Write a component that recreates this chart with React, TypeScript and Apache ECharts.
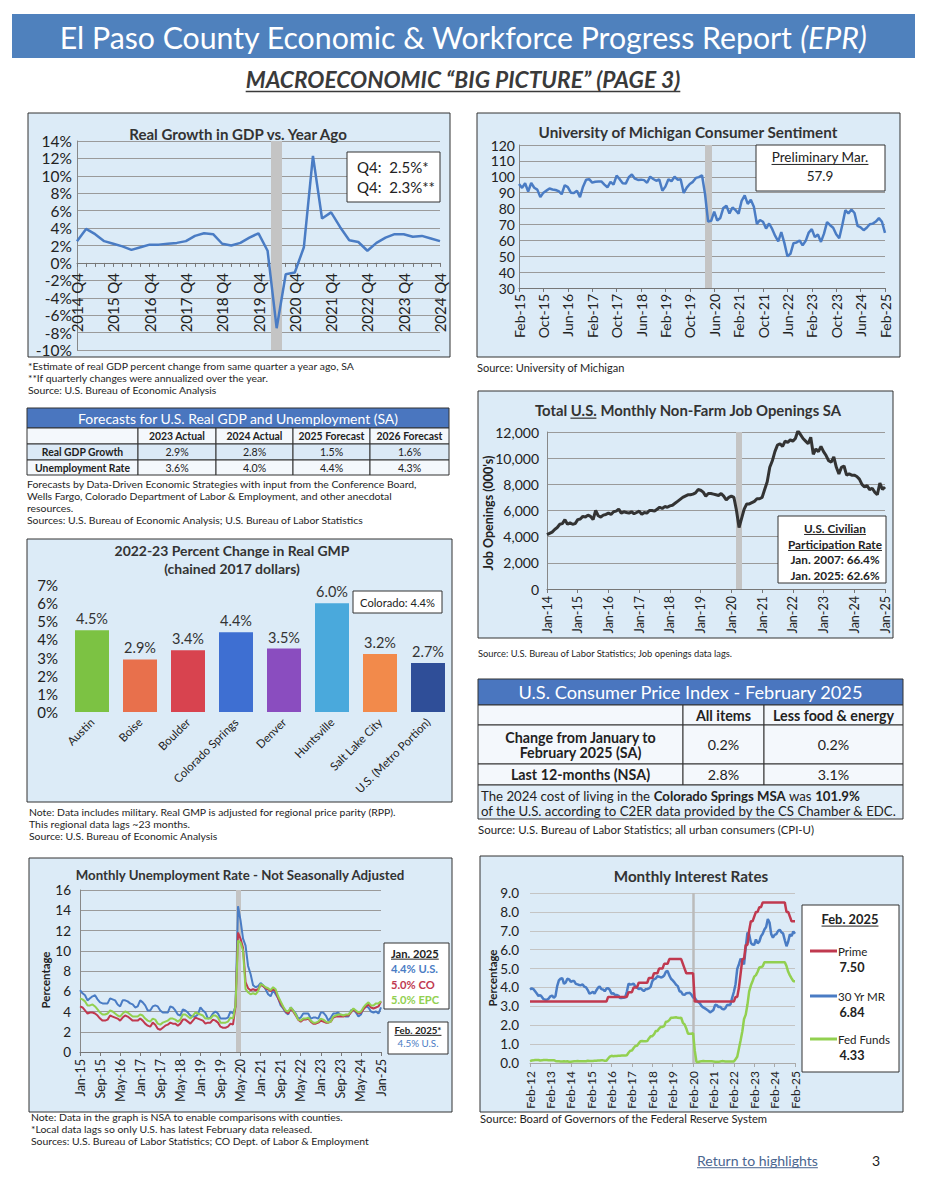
import React, { useEffect, useRef } from 'react';
import * as echarts from 'echarts';

const FONT = 'Lato, "Open Sans", "DejaVu Sans", sans-serif';
const MONTHS = ['Jan', 'Feb', 'Mar', 'Apr', 'May', 'Jun', 'Jul', 'Aug', 'Sep', 'Oct', 'Nov', 'Dec'];

function monthLabels(startYear: number, startMonth: number, count: number): string[] {
  const out: string[] = [];
  for (let i = 0; i < count; i++) {
    const t = startMonth + i;
    const y = startYear + Math.floor(t / 12);
    out.push(MONTHS[t % 12] + '-' + String(y % 100).padStart(2, '0'));
  }
  return out;
}
function quarterLabels(startYear: number, startQ: number, count: number): string[] {
  const out: string[] = [];
  for (let i = 0; i < count; i++) {
    const t = startQ - 1 + i;
    out.push(startYear + Math.floor(t / 4) + ' Q' + ((t % 4) + 1));
  }
  return out;
}

// ---------------- DATA ----------------
// Real GDP growth vs year ago (quarterly, 2014 Q4 - 2024 Q4)
const gdpQuarters = quarterLabels(2014, 4, 41);
const gdpGrowth = [
  2.5, 3.9, 3.3, 2.5, 2.2, 1.9, 1.5, 1.8, 2.1, 2.1, 2.2, 2.3, 2.5,
  3.1, 3.4, 3.3, 2.2, 2.0, 2.3, 2.9, 3.4, 1.4, -7.5, -1.3, -1.1,
  1.8, 12.3, 5.1, 5.8, 4.1, 2.6, 2.4, 1.4, 2.3, 2.9, 3.3, 3.3,
  3.0, 3.1, 2.8, 2.5,
];
const gdpQ4Yoy = 2.5;
const gdpQ4Ann = 2.3;

// U. Michigan consumer sentiment (monthly Feb-15 .. Feb-25)
const sentMonths = monthLabels(2015, 1, 121);
const sentiment = [
  95.4, 93.0, 95.9, 90.7, 96.1, 93.1, 91.9, 87.2, 90.0, 91.3, 92.6,
  92.0, 91.7, 91.0, 89.0, 94.7, 93.5, 90.0, 89.8, 91.2, 87.2, 93.8, 98.2,
  98.5, 96.3, 96.9, 97.0, 97.1, 95.1, 93.4, 96.8, 95.1, 100.7, 98.5, 95.9,
  95.7, 99.7, 101.4, 98.8, 98.0, 98.2, 97.9, 96.2, 100.1, 98.6, 97.5, 98.3,
  91.2, 93.8, 98.4, 97.2, 100.0, 98.2, 98.4, 89.8, 93.2, 95.5, 96.8, 99.3,
  99.8, 101.0, 89.1, 71.8, 72.3, 78.1, 72.5, 74.1, 80.4, 81.8, 76.9, 80.7,
  79.0, 76.8, 84.9, 88.3, 82.9, 85.5, 81.2, 70.3, 72.8, 71.7, 67.4, 70.6,
  67.2, 62.8, 59.4, 65.2, 58.4, 50.0, 51.5, 58.2, 58.6, 59.9, 56.8, 59.7,
  64.9, 67.0, 62.0, 63.7, 59.0, 64.2, 71.5, 69.5, 67.9, 63.8, 61.3, 69.7,
  79.0, 76.9, 79.4, 77.2, 69.1, 68.2, 66.4, 67.9, 70.1, 70.5, 71.8, 74.0,
  71.7, 64.7,
];
const sentimentPrelim = 57.9;

// Forecast table
const fcHeaders = ['2023 Actual', '2024 Actual', '2025 Forecast', '2026 Forecast'];
const fcRowLabels = ['Real GDP Growth', 'Unemployment Rate'];
const fcGdp = [2.9, 2.8, 1.5, 1.6];
const fcUnemp = [3.6, 4.0, 4.4, 4.3];

// Real GMP change
const gmpCities = ['Austin', 'Boise', 'Boulder', 'Colorado Springs', 'Denver', 'Huntsville', 'Salt Lake City', 'U.S. (Metro Portion)'];
const gmpValues = [4.5, 2.9, 3.4, 4.4, 3.5, 6.0, 3.2, 2.7];
const gmpColors = ['#7cc243', '#e8704c', '#d8434f', '#3e6fd2', '#8a4dbf', '#4aa9dc', '#f28a4b', '#2f4e98'];
const gmpColorado = 4.4;

// Job openings (000's), monthly Jan-14 .. Jan-25
const jobMonths = monthLabels(2014, 0, 133);
const jobOpenings = [
  4150, 4250, 4350, 4550, 4700, 4950, 5000, 5300, 4950, 5050, 4950, 5000,
  5300, 5350, 5550, 5500, 5650, 5550, 5300, 6000, 5600, 5500, 5650, 5700,
  5800, 5700, 5900, 5950, 6100, 5800, 5900, 5850, 5800, 5900, 5750, 5850,
  5950, 5700, 5850, 5800, 6000, 6000, 5950, 6100, 6250, 6150, 6300, 6250,
  6350, 6400, 6550, 6700, 6850, 7000, 7100, 7200, 7200, 7250, 7350, 7600,
  7550, 7400, 7100, 7300, 7300, 7250, 7200, 7150, 7300, 7100, 6800, 7000,
  7100, 7000, 6000, 4700, 5400, 6100, 6500, 6500, 6600, 6700, 6900, 6900,
  7000, 7600, 8200, 9300, 9800, 10500, 11000, 11100, 10900, 11300, 11200, 11400,
  11300, 11500, 12100, 11800, 11500, 11300, 11100, 11600, 10300, 10700, 10500, 10900,
  10500, 10200, 9800, 9700, 10100, 9300, 8800, 9300, 9400, 8700, 8800, 8700,
  8700, 8600, 8400, 8000, 7800, 7900, 7600, 7700, 7400, 7200, 8100, 7600,
  7800,
];
const participation = [
  ['Jan. 2007', 66.4],
  ['Jan. 2025', 62.6],
];

// CPI table
const cpiCols = ['All items', 'Less food & energy'];
const cpiMonthly = [0.2, 0.2];
const cpi12m = [2.8, 3.1];
const costOfLiving = 101.9;

// Unemployment NSA monthly Jan-15 .. Jan-25
const unMonths = monthLabels(2015, 0, 121);
const unUS = [
  6.1, 5.8, 5.6, 5.1, 5.3, 5.5, 5.6, 5.2, 4.9, 4.8, 4.8, 4.8,
  5.3, 5.2, 5.1, 4.7, 4.5, 5.1, 5.1, 5.0, 4.8, 4.7, 4.4, 4.5,
  5.1, 4.9, 4.6, 4.1, 4.1, 4.5, 4.6, 4.5, 4.1, 3.9, 3.9, 3.9,
  4.5, 4.4, 4.1, 3.7, 3.6, 4.2, 4.1, 3.9, 3.6, 3.5, 3.5, 3.7,
  4.4, 4.1, 3.9, 3.3, 3.4, 3.8, 4.0, 3.8, 3.3, 3.3, 3.3, 3.4,
  4.0, 3.8, 4.5, 14.4, 13.0, 11.2, 10.5, 8.5, 7.7, 6.6, 6.4, 6.5,
  6.8, 6.6, 6.2, 5.7, 5.5, 6.1, 5.7, 5.3, 4.6, 4.3, 3.9, 3.7,
  4.4, 4.1, 3.8, 3.3, 3.4, 3.8, 3.8, 3.8, 3.3, 3.4, 3.4, 3.3,
  3.9, 3.9, 3.6, 3.1, 3.4, 3.8, 3.8, 3.9, 3.6, 3.6, 3.5, 3.5,
  4.1, 4.2, 3.9, 3.5, 3.7, 4.3, 4.5, 4.4, 4.0, 3.9, 4.0, 3.8,
  4.4,
];
const unCO = [
  4.5, 4.4, 4.1, 3.8, 3.9, 3.9, 3.8, 3.6, 3.3, 3.1, 3.1, 3.2,
  3.6, 3.5, 3.4, 3.3, 3.1, 3.4, 3.6, 3.5, 3.3, 3.1, 3.1, 3.1,
  3.3, 3.1, 2.8, 2.6, 2.5, 2.9, 2.7, 2.3, 2.2, 2.4, 2.6, 2.7,
  2.9, 2.8, 2.8, 2.6, 2.8, 3.2, 3.2, 3.0, 2.8, 3.1, 3.4, 3.3,
  3.2, 3.1, 2.8, 2.9, 2.9, 3.2, 3.1, 2.9, 2.5, 2.4, 2.4, 2.5,
  2.8, 2.7, 4.5, 11.8, 11.2, 10.3, 6.9, 6.3, 6.1, 6.2, 6.1, 6.2,
  6.6, 6.5, 6.3, 6.2, 6.0, 6.2, 6.0, 5.3, 4.8, 4.4, 4.0, 3.8,
  4.3, 4.0, 3.6, 3.2, 3.0, 3.2, 3.2, 3.3, 3.0, 2.8, 2.8, 2.9,
  3.1, 3.0, 2.9, 2.9, 3.0, 3.4, 3.5, 3.5, 3.5, 3.5, 3.6, 3.6,
  3.9, 4.2, 4.0, 3.8, 3.9, 4.2, 4.5, 4.7, 4.4, 4.3, 4.4, 4.5,
  5.0,
];
const unEPC = [
  5.3, 5.2, 5.0, 4.6, 4.6, 4.7, 4.5, 4.2, 3.9, 3.7, 3.7, 3.8,
  4.1, 4.0, 3.8, 3.6, 3.5, 3.8, 4.0, 3.9, 3.7, 3.5, 3.5, 3.5,
  3.7, 3.6, 3.3, 3.1, 3.0, 3.3, 3.2, 2.8, 2.7, 2.9, 3.0, 3.1,
  3.3, 3.3, 3.2, 3.0, 3.2, 3.7, 3.7, 3.5, 3.3, 3.6, 3.9, 3.8,
  3.7, 3.6, 3.3, 3.3, 3.3, 3.6, 3.6, 3.4, 2.9, 2.9, 2.9, 3.0,
  3.4, 3.3, 4.6, 11.0, 10.8, 10.0, 6.2, 5.9, 5.7, 5.8, 5.7, 6.0,
  6.7, 6.6, 6.4, 6.3, 6.1, 6.4, 6.2, 5.5, 5.0, 4.5, 4.1, 4.0,
  4.4, 4.1, 3.7, 3.2, 3.1, 3.3, 3.3, 3.4, 3.1, 2.9, 2.9, 3.0,
  3.3, 3.2, 3.0, 2.9, 3.0, 3.5, 3.6, 3.7, 3.7, 3.6, 3.7, 3.7,
  4.0, 4.3, 4.1, 3.9, 4.0, 4.4, 4.7, 4.9, 4.6, 4.6, 4.8, 4.8,
  5.0,
];
const unFebUS = 4.5;

// Interest rates monthly Feb-12 .. Feb-25
const irMonths = monthLabels(2012, 1, 157);
const prime = [
  3.25, 3.25, 3.25, 3.25, 3.25, 3.25, 3.25, 3.25, 3.25, 3.25, 3.25,
  3.25, 3.25, 3.25, 3.25, 3.25, 3.25, 3.25, 3.25, 3.25, 3.25, 3.25, 3.25,
  3.25, 3.25, 3.25, 3.25, 3.25, 3.25, 3.25, 3.25, 3.25, 3.25, 3.25, 3.25,
  3.25, 3.25, 3.25, 3.25, 3.25, 3.25, 3.25, 3.25, 3.25, 3.25, 3.25, 3.5,
  3.5, 3.5, 3.5, 3.5, 3.5, 3.5, 3.5, 3.5, 3.5, 3.5, 3.5, 3.75,
  3.75, 3.75, 4.0, 4.0, 4.0, 4.25, 4.25, 4.25, 4.25, 4.25, 4.25, 4.5,
  4.5, 4.5, 4.75, 4.75, 4.75, 5.0, 5.0, 5.0, 5.25, 5.25, 5.25, 5.5,
  5.5, 5.5, 5.5, 5.5, 5.5, 5.5, 5.5, 5.25, 5.0, 4.75, 4.75, 4.75,
  4.75, 4.75, 3.25, 3.25, 3.25, 3.25, 3.25, 3.25, 3.25, 3.25, 3.25, 3.25,
  3.25, 3.25, 3.25, 3.25, 3.25, 3.25, 3.25, 3.25, 3.25, 3.25, 3.25, 3.25,
  3.25, 3.25, 3.5, 3.5, 4.0, 4.75, 5.5, 5.5, 6.25, 6.25, 7.0, 7.5,
  7.5, 7.75, 8.0, 8.0, 8.25, 8.25, 8.5, 8.5, 8.5, 8.5, 8.5, 8.5,
  8.5, 8.5, 8.5, 8.5, 8.5, 8.5, 8.5, 8.5, 8.0, 8.0, 7.75, 7.5,
  7.5, 7.5,
];
const mortgage30 = [
  3.89, 3.95, 3.91, 3.80, 3.68, 3.55, 3.60, 3.50, 3.38, 3.35, 3.35,
  3.41, 3.53, 3.57, 3.45, 3.54, 4.07, 4.37, 4.46, 4.49, 4.19, 4.26, 4.46,
  4.43, 4.30, 4.34, 4.34, 4.19, 4.16, 4.13, 4.12, 4.16, 4.04, 4.00, 3.86,
  3.67, 3.71, 3.77, 3.67, 3.84, 3.98, 4.05, 3.91, 3.89, 3.80, 3.94, 3.96,
  3.87, 3.66, 3.69, 3.61, 3.60, 3.57, 3.44, 3.44, 3.46, 3.47, 3.77, 4.20,
  4.15, 4.17, 4.20, 4.05, 4.01, 3.90, 3.97, 3.88, 3.81, 3.90, 3.92, 3.95,
  4.03, 4.33, 4.44, 4.47, 4.59, 4.57, 4.53, 4.55, 4.63, 4.83, 4.87, 4.64,
  4.46, 4.37, 4.27, 4.14, 4.07, 3.80, 3.77, 3.62, 3.61, 3.69, 3.70, 3.72,
  3.62, 3.47, 3.45, 3.31, 3.23, 3.16, 3.02, 2.94, 2.89, 2.83, 2.77, 2.68,
  2.74, 2.81, 3.08, 3.06, 2.96, 2.98, 2.87, 2.84, 2.90, 3.07, 3.07, 3.10,
  3.45, 3.76, 4.17, 4.98, 5.23, 5.52, 5.41, 5.22, 6.11, 6.90, 6.81, 6.36,
  6.27, 6.26, 6.54, 6.34, 6.43, 6.71, 6.84, 7.07, 7.20, 7.62, 7.44, 6.82,
  6.64, 6.78, 6.82, 6.99, 7.06, 6.92, 6.85, 6.50, 6.18, 6.43, 6.81, 6.72,
  6.96, 6.84,
];
const fedFunds = [
  0.10, 0.13, 0.14, 0.16, 0.16, 0.16, 0.13, 0.14, 0.16, 0.16, 0.16,
  0.14, 0.15, 0.14, 0.15, 0.11, 0.09, 0.09, 0.08, 0.08, 0.09, 0.08, 0.09,
  0.07, 0.07, 0.08, 0.09, 0.09, 0.10, 0.09, 0.09, 0.09, 0.09, 0.09, 0.12,
  0.11, 0.11, 0.11, 0.12, 0.12, 0.13, 0.13, 0.14, 0.14, 0.12, 0.12, 0.24,
  0.34, 0.38, 0.36, 0.37, 0.37, 0.38, 0.39, 0.40, 0.40, 0.40, 0.41, 0.54,
  0.65, 0.66, 0.79, 0.90, 0.91, 1.04, 1.15, 1.16, 1.15, 1.15, 1.16, 1.30,
  1.41, 1.42, 1.51, 1.69, 1.70, 1.82, 1.91, 1.91, 1.95, 2.19, 2.20, 2.27,
  2.40, 2.40, 2.41, 2.42, 2.39, 2.38, 2.40, 2.13, 2.04, 1.83, 1.55, 1.55,
  1.55, 1.58, 0.65, 0.05, 0.05, 0.08, 0.09, 0.10, 0.09, 0.09, 0.09, 0.09,
  0.09, 0.08, 0.07, 0.07, 0.06, 0.08, 0.10, 0.09, 0.08, 0.08, 0.08, 0.08,
  0.08, 0.08, 0.20, 0.33, 0.77, 1.21, 1.68, 2.33, 2.56, 3.08, 3.78, 4.10,
  4.33, 4.57, 4.65, 4.83, 5.06, 5.08, 5.12, 5.33, 5.33, 5.33, 5.33, 5.33,
  5.33, 5.33, 5.33, 5.33, 5.33, 5.33, 5.33, 5.33, 5.13, 4.83, 4.64, 4.48,
  4.33, 4.33,
];

// ---------------- HELPERS ----------------
const BLUE = '#4a7cc4';
const RED = '#c0394f';
const GREEN = '#92d050';
const PANEL = '#dcebf7';

let mctx: any = null;
function measure(text: string, size: number, bold = false, italic = false): number {
  if (!mctx) mctx = document.createElement('canvas').getContext('2d');
  mctx.font = `${italic ? 'italic ' : ''}${bold ? 'bold ' : ''}${size}px ${FONT}`;
  return mctx.measureText(text).width;
}
function fit(text: string, width: number, bold = false, italic = false): number {
  return (100 * width) / measure(text, 100, bold, italic);
}

function buildOption() {
  const els: any[] = [];
  const T = (x: number, y: number, text: string, size: number, o: any = {}) => {
    const style: any = {
      text,
      fontSize: size,
      fontFamily: FONT,
      fontWeight: o.bold ? 'bold' : 'normal',
      fontStyle: o.italic ? 'italic' : 'normal',
      fill: o.color || '#222',
      align: o.align || 'left',
      verticalAlign: 'middle',
    };
    if (o.rich) style.rich = o.rich;
    els.push({ type: 'text', x, y, z: o.z ?? 50, rotation: o.rotation || 0, silent: true, style });
  };
  const R = (x: number, y: number, w: number, h: number, fill: string, stroke: string | null, z = -10, lw = 1) => {
    els.push({ type: 'rect', z, silent: true, shape: { x, y, width: w, height: h }, style: { fill, stroke: stroke || 'none', lineWidth: lw } });
  };
  const L = (x1: number, y1: number, x2: number, y2: number, color: string, w = 1, z = 60) => {
    els.push({ type: 'line', z, silent: true, shape: { x1, y1, x2, y2 }, style: { stroke: color, lineWidth: w } });
  };
  const U = (x: number, y: number, text: string, size: number, o: any = {}) => {
    T(x, y, text, size, o);
    const w = measure(text, size, !!o.bold, !!o.italic);
    const a = o.align || 'left';
    const x0 = a === 'center' ? x - w / 2 : a === 'right' ? x - w : x;
    const uy = y + size * 0.55;
    L(x0, uy, x0 + w, uy, o.color || '#222', Math.max(1, size * 0.07));
  };
  const notes = (x: number, ys: number[], lines: string[], refIdx: number, refW: number) => {
    let s = fit(lines[refIdx], refW);
    if (ys.length > 1) s = Math.min(s, (ys[1] - ys[0]) / 1.15);
    lines.forEach((l, i) => T(x, ys[i], l, s, { color: '#1e1e1e' }));
  };

  // ----- Header -----
  R(12, 14, 903, 44, '#4f81bd', null);
  const h1a = 'El Paso County Economic & Workforce Progress Report ';
  const h1b = '(EPR)';
  const h1s = (100 * 808) / (measure(h1a, 100) + measure(h1b, 100, false, true));
  T(463, 37, h1a + '{i|' + h1b + '}', h1s, {
    color: '#ffffff',
    align: 'center',
    rich: { i: { fontStyle: 'italic', fontSize: h1s, fontFamily: FONT, fill: '#ffffff' } },
  });
  const sub = 'MACROECONOMIC “BIG PICTURE” (PAGE 3)';
  U(463, 79, sub, fit(sub, 435, true, true), { bold: true, italic: true, color: '#3a3a3a', align: 'center' });

  // ----- Panel 1: GDP -----
  R(28, 113, 422, 244, PANEL, '#333');
  const t1 = 'Real Growth in GDP vs. Year Ago';
  T(238, 134, t1, fit(t1, 220, true), { bold: true, align: 'center', color: '#333' });
  R(347, 152, 93, 50, '#ffffff', '#333', 40);
  const bx1 = `Q4:  ${gdpQ4Ann.toFixed(1)}%**`;
  const bs1 = fit(bx1, 78);
  T(357, 167, `Q4:  ${gdpQ4Yoy.toFixed(1)}%*`, bs1);
  T(357, 187, bx1, bs1);
  notes(28, [366, 378, 390], [
    '*Estimate of real GDP percent change from same quarter a year ago, SA',
    '**If quarterly changes were annualized over the year.',
    'Source: U.S. Bureau of Economic Analysis',
  ], 0, 356);

  // ----- Panel 2: Sentiment -----
  R(477, 113, 423, 244, PANEL, '#333');
  const t2 = 'University of Michigan Consumer Sentiment';
  T(688, 132, t2, fit(t2, 300, true), { bold: true, align: 'center', color: '#333' });
  R(756, 145, 129, 46, '#ffffff', '#333', 40);
  const p1 = 'Preliminary Mar.';
  const ps = fit(p1, 97);
  U(820, 157, p1, ps, { align: 'center', color: '#222' });
  T(820, 176, sentimentPrelim.toFixed(1), ps, { align: 'center' });
  notes(477, [367], ['Source: University of Michigan'], 0, 148);

  // ----- Panel 3: Forecast table -----
  const fx = [27, 138, 216, 293, 370, 449];
  const fy = [428, 444, 460, 475];
  R(27, 408, 422, 20, '#4a76bf', '#333', 5);
  const t3 = 'Forecasts for U.S. Real GDP and Unemployment (SA)';
  T(238, 418.5, t3, fit(t3, 321), { color: '#ffffff', align: 'center' });
  const rowFills = ['#f4f8fc', '#dbe9f6', '#f4f8fc'];
  for (let r = 0; r < 3; r++) {
    for (let c = 0; c < 5; c++) {
      R(fx[c], fy[r], fx[c + 1] - fx[c], fy[r + 1] - fy[r], rowFills[r], '#333', 5);
    }
  }
  const fs3 = fit('2025 Forecast', 66, true);
  fcHeaders.forEach((h, i) => T((fx[i + 1] + fx[i + 2]) / 2, (fy[0] + fy[1]) / 2, h, fs3, { bold: true, align: 'center' }));
  fcRowLabels.forEach((h, r) => T((fx[0] + fx[1]) / 2, (fy[r + 1] + fy[r + 2]) / 2, h, fs3, { bold: true, align: 'center' }));
  [fcGdp, fcUnemp].forEach((row, r) =>
    row.forEach((v, i) => T((fx[i + 1] + fx[i + 2]) / 2, (fy[r + 1] + fy[r + 2]) / 2, v.toFixed(1) + '%', fs3 * 1.02, { align: 'center' }))
  );
  notes(27, [484, 496, 508, 520], [
    'Forecasts by Data-Driven Economic Strategies with input from the Conference Board,',
    'Wells Fargo, Colorado Department of Labor & Employment, and other anecdotal',
    'resources.',
    'Sources: U.S. Bureau of Economic Analysis; U.S. Bureau of Labor Statistics',
  ], 0, 416);

  // ----- Panel 4: GMP -----
  R(27, 539, 425, 263, PANEL, '#333');
  const t4a = '2022-23 Percent Change in Real GMP';
  const t4s = fit(t4a, 235, true);
  T(232, 550, t4a, t4s, { bold: true, align: 'center', color: '#333' });
  T(232, 568, '(chained 2017 dollars)', t4s, { bold: true, align: 'center', color: '#333' });
  R(353, 591, 89, 22, '#ffffff', '#333', 40);
  const cbox = `Colorado: ${gmpColorado.toFixed(1)}%`;
  T(397.5, 602, cbox, fit(cbox, 75), { align: 'center' });
  notes(29, [812, 824, 836], [
    'Note: Data includes military. Real GMP is adjusted for regional price parity (RPP).',
    'This regional data lags ~23 months.',
    'Source: U.S. Bureau of Economic Analysis',
  ], 0, 393);

  // ----- Panel 5: Job openings -----
  R(478, 391, 415, 247, PANEL, '#333');
  const t5 = 'Total U.S. Monthly Non-Farm Job Openings SA';
  const t5s = fit(t5, 307, true);
  T(688, 410, t5, t5s, { bold: true, align: 'center', color: '#333' });
  {
    const wAll = measure(t5, t5s, true);
    const w1 = measure('Total ', t5s, true);
    const w2 = measure('U.S.', t5s, true);
    const x0 = 688 - wAll / 2 + w1;
    L(x0, 410 + t5s * 0.55, x0 + w2, 410 + t5s * 0.55, '#333', 1.2);
  }
  const yn5 = "Job Openings (000's)";
  T(488, 513, yn5, fit(yn5, 115, true), { bold: true, align: 'center', rotation: Math.PI / 2, color: '#222' });
  R(778, 516, 108, 67, '#ffffff', '#333', 40);
  const bs5 = fit('Participation Rate', 94, true);
  U(835, 528, 'U.S. Civilian', bs5, { bold: true, align: 'center' });
  U(835, 544, 'Participation Rate', bs5, { bold: true, align: 'center' });
  participation.forEach((p, i) => T(835, 559.5 + i * 15.5, `${p[0]}: ${(p[1] as number).toFixed(1)}%`, bs5, { bold: true, align: 'center' }));
  notes(478, [653], ['Source: U.S. Bureau of Labor Statistics; Job openings data lags.'], 0, 255);

  // ----- Panel 6: CPI table -----
  const cx = [478, 683, 764, 903];
  const cy = [705, 725, 764, 785];
  R(478, 679, 425, 26, '#4a76bf', '#333', 5);
  const t6 = 'U.S. Consumer Price Index - February 2025';
  T(690.5, 692, t6, fit(t6, 345), { color: '#ffffff', align: 'center' });
  for (let r = 0; r < 3; r++) {
    for (let c = 0; c < 3; c++) {
      R(cx[c], cy[r], cx[c + 1] - cx[c], cy[r + 1] - cy[r], '#f4f8fc', '#333', 5);
    }
  }
  R(478, 785, 425, 34, '#e2eef8', '#333', 5);
  const fs6 = fit('Less food & energy', 121, true);
  cpiCols.forEach((h, i) => T((cx[i + 1] + cx[i + 2]) / 2, 715, h, fs6, { bold: true, align: 'center' }));
  T(580.5, 737, 'Change from January to', fs6, { bold: true, align: 'center' });
  T(580.5, 752.5, 'February 2025 (SA)', fs6, { bold: true, align: 'center' });
  T(580.5, 774.5, 'Last 12-months (NSA)', fs6, { bold: true, align: 'center' });
  cpiMonthly.forEach((v, i) => T((cx[i + 1] + cx[i + 2]) / 2, 744.5, v.toFixed(1) + '%', fs6, { align: 'center' }));
  cpi12m.forEach((v, i) => T((cx[i + 1] + cx[i + 2]) / 2, 774.5, v.toFixed(1) + '%', fs6, { align: 'center' }));
  const f2 = 'of the U.S. according to C2ER data provided by the CS Chamber & EDC.';
  const fs6b = fit(f2, 416);
  T(481, 795.5, `The 2024 cost of living in the {b|Colorado Springs MSA} was {b|${costOfLiving.toFixed(1)}%}`, fs6b, {
    rich: { b: { fontWeight: 'bold', fontSize: fs6b, fontFamily: FONT, fill: '#222' } },
  });
  T(481, 811, f2, fs6b);
  notes(478, [829], ['Source: U.S. Bureau of Labor Statistics; all urban consumers (CPI-U)'], 0, 337);

  // ----- Panel 7: Unemployment -----
  R(29, 858, 423, 254, PANEL, '#333');
  const t7 = 'Monthly Unemployment Rate - Not Seasonally Adjusted';
  T(240, 875, t7, fit(t7, 330, true), { bold: true, align: 'center', color: '#333' });
  T(45, 980, 'Percentage', fit('Percentage', 57, true), { bold: true, align: 'center', rotation: Math.PI / 2 });
  R(384, 943, 65, 66, '#ffffff', '#333', 40);
  const bs7 = fit('4.4% U.S.', 47, true);
  U(391, 953, 'Jan. 2025', bs7, { bold: true, color: '#222' });
  T(391, 968.5, `${unUS[unUS.length - 1].toFixed(1)}% U.S.`, bs7, { bold: true, color: BLUE });
  T(391, 984, `${unCO[unCO.length - 1].toFixed(1)}% CO`, bs7, { bold: true, color: RED });
  T(391, 999.5, `${unEPC[unEPC.length - 1].toFixed(1)}% EPC`, bs7, { bold: true, color: GREEN });
  R(388, 1022, 60, 32, '#ffffff', '#333', 40);
  U(418, 1030, 'Feb. 2025*', fit('Feb. 2025*', 47, true), { bold: true, align: 'center' });
  T(418, 1042.5, `${unFebUS.toFixed(1)}% U.S.`, fit('4.5% U.S.', 41), { align: 'center', color: BLUE });
  notes(31, [1117, 1129, 1141], [
    'Note: Data in the graph is NSA to enable comparisons with counties.',
    '*Local data lags so only U.S. has latest February data released.',
    'Sources: U.S. Bureau of Labor Statistics; CO Dept. of Labor & Employment',
  ], 2, 352);

  // ----- Panel 8: Interest rates -----
  R(480, 856, 423, 256, PANEL, '#333');
  const t8 = 'Monthly Interest Rates';
  T(691, 876, t8, fit(t8, 155, true), { bold: true, align: 'center', color: '#333' });
  T(492, 978, 'Percentage', fit('Percentage', 57, true), { bold: true, align: 'center', rotation: Math.PI / 2 });
  R(802, 905, 97, 167, '#ffffff', '#333', 40);
  U(850, 919, 'Feb. 2025', fit('Feb. 2025', 57, true), { bold: true, align: 'center' });
  const lgS = fit('Fed Funds', 52);
  const lgV = fit('7.50', 25, true);
  const legendItems = [
    { name: 'Prime', color: RED, data: prime, y: 951 },
    { name: '30 Yr MR', color: BLUE, data: mortgage30, y: 996 },
    { name: 'Fed Funds', color: GREEN, data: fedFunds, y: 1039 },
  ];
  legendItems.forEach((it) => {
    L(810, it.y, 837, it.y, it.color, 3);
    T(838, it.y, it.name, lgS, { color: '#222' });
    T(852, it.y + 16.5, it.data[it.data.length - 1].toFixed(2), lgV, { bold: true, align: 'center' });
  });
  notes(480, [1118], ['Source: Board of Governors of the Federal Reserve System'], 0, 288);

  // ----- Footer -----
  U(697, 1160, 'Return to highlights', fit('Return to highlights', 121), { color: '#4a6690' });
  T(872, 1160, '3', 14, { color: '#222' });

  // ---------- axes ----------
  const grids = [
    { left: 77, top: 141, width: 363, height: 209 },
    { left: 519, top: 145, width: 366, height: 143 },
    { left: 68, top: 585, width: 384, height: 127 },
    { left: 547, top: 432, width: 338, height: 157 },
    { left: 80, top: 890, width: 301, height: 162 },
    { left: 530, top: 893, width: 265, height: 170 },
  ].map((g) => ({ ...g, containLabel: false, outerBoundsMode: 'none' }));

  const catX = (gi: number, data: string[], interval: number, fs: number, margin: number, lineColor: string, onZero = false, tickInterval?: number) => ({
    gridIndex: gi,
    type: 'category',
    data,
    boundaryGap: false,
    axisLine: { show: true, onZero, lineStyle: { color: lineColor, width: 1 } },
    axisTick: { show: true, interval: tickInterval ?? interval, length: 4, lineStyle: { color: lineColor } },
    axisLabel: { interval, rotate: 90, fontSize: fs, color: '#222', margin, fontFamily: FONT },
    splitLine: { show: false },
  });
  const valY = (gi: number, min: number, max: number, interval: number, fs: number, margin: number, fmt: any, gridColor: string, showLine: boolean) => ({
    gridIndex: gi,
    type: 'value',
    min,
    max,
    interval,
    axisLine: { show: showLine, lineStyle: { color: '#888' } },
    axisTick: { show: false },
    axisLabel: { fontSize: fs, color: '#222', margin, formatter: fmt, fontFamily: FONT },
    splitLine: { show: true, lineStyle: { color: gridColor, width: 1 } },
  });

  const gdpAxisLine = catX(0, gdpQuarters, 3, 15, 6, '#777', true, 0);
  (gdpAxisLine as any).axisLabel = { show: false };
  const xAxis = [
    gdpAxisLine,
    catX(1, sentMonths, 7, 14, 6, '#777'),
    {
      gridIndex: 2,
      type: 'category',
      data: gmpCities,
      axisLine: { show: false },
      axisTick: { show: false },
      axisLabel: { interval: 0, rotate: 45, fontSize: 11.5, color: '#222', margin: 8, fontFamily: FONT },
    },
    catX(3, jobMonths, 11, 12.5, 7, '#777'),
    catX(4, unMonths, 7, 12.5, 7, '#777'),
    catX(5, irMonths, 11, 12, 8, '#aaa'),
    // labels of the GDP quarter axis, lifted up to the 0% line
    {
      gridIndex: 0,
      type: 'category',
      data: gdpQuarters,
      boundaryGap: false,
      position: 'bottom',
      offset: -87,
      axisLine: { show: false, onZero: false },
      axisTick: { show: false },
      splitLine: { show: false },
      axisLabel: { interval: 3, rotate: 90, fontSize: 15, color: '#222', margin: 10, fontFamily: FONT },
    },
  ];
  const yAxis = [
    valY(0, -10, 14, 2, 15.5, 5, '{value}%', '#9a9a9a', true),
    valY(1, 30, 120, 10, 14, 4, '{value}', '#9a9a9a', true),
    { ...valY(2, 0, 7, 1, 15, 10, '{value}%', '#999', false), splitLine: { show: false } },
    valY(3, 0, 12000, 2000, 14, 8, (v: number) => v.toLocaleString('en-US'), '#9a9a9a', true),
    valY(4, 0, 16, 2, 13.5, 9, '{value}', '#9a9a9a', true),
    valY(5, 0, 9, 1, 13.5, 11, (v: number) => v.toFixed(1), '#c4c4c4', false),
  ];

  const band = (cat: string, width: number, color = '#c4c4c4') => ({
    silent: true,
    z: 1,
    symbol: ['none', 'none'],
    label: { show: false },
    emphasis: { disabled: true },
    lineStyle: { color, width, type: 'solid', opacity: 1 },
    data: [{ xAxis: cat }],
  });
  const lineS = (idx: number, data: number[], color: string, width: number, mark?: any) => {
    const s: any = {
      type: 'line',
      xAxisIndex: idx,
      yAxisIndex: idx,
      data,
      showSymbol: false,
      symbol: 'none',
      silent: true,
      z: 3,
      lineStyle: { color, width },
      itemStyle: { color },
    };
    if (mark) s.markLine = mark;
    return s;
  };

  const series = [
    lineS(0, gdpGrowth, BLUE, 2.5, band('2020 Q2', 11)),
    lineS(1, sentiment, BLUE, 2.5, band('Apr-20', 7)),
    {
      type: 'bar',
      xAxisIndex: 2,
      yAxisIndex: 2,
      barWidth: 34,
      silent: true,
      data: gmpValues.map((v, i) => ({ value: v, itemStyle: { color: gmpColors[i] } })),
      label: {
        show: true,
        position: 'top',
        distance: 4,
        fontSize: 14.5,
        color: '#333',
        fontFamily: FONT,
        formatter: (p: any) => Number(p.value).toFixed(1) + '%',
      },
    },
    lineS(3, jobOpenings, '#333333', 3, band('Apr-20', 6)),
    lineS(4, unUS, BLUE, 2, band('Apr-20', 5)),
    lineS(4, unCO, RED, 2),
    lineS(4, unEPC, GREEN, 2),
    lineS(5, fedFunds, GREEN, 2.5, band('Feb-20', 2.5, '#bbbbbb')),
    lineS(5, mortgage30, BLUE, 2.5),
    lineS(5, prime, RED, 2.5),
  ];

  return {
    backgroundColor: '#ffffff',
    animation: false,
    textStyle: { fontFamily: FONT },
    tooltip: { show: false },
    grid: grids,
    xAxis,
    yAxis,
    series,
    graphic: { elements: els },
  };
}

export default function App() {
  const ref = useRef<HTMLDivElement>(null);
  useEffect(() => {
    if (!ref.current) return;
    const chart = echarts.init(ref.current, undefined, { renderer: 'svg', width: 927, height: 1200 });
    chart.setOption(buildOption() as any);
    return () => chart.dispose();
  }, []);
  return (
    <div
      ref={ref}
      style={{ position: 'absolute', left: 0, top: 0, width: 927, height: 1200, background: '#ffffff' }}
    />
  );
}
